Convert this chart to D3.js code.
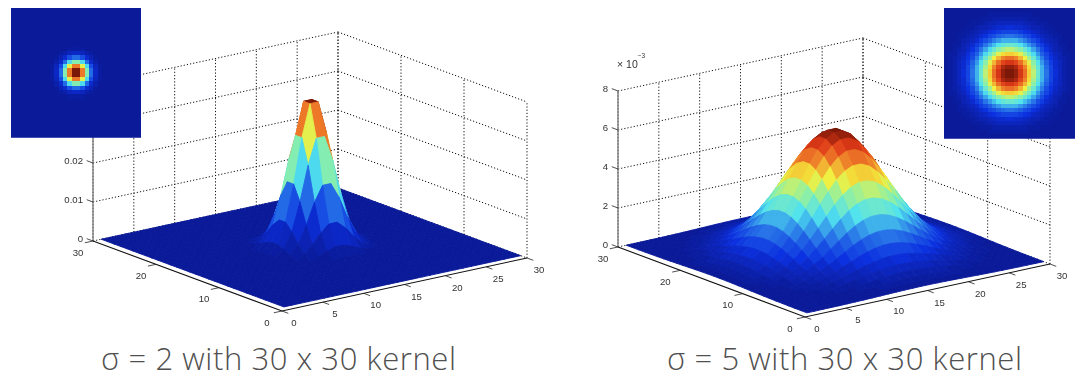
<!DOCTYPE html>
<html><head><meta charset="utf-8">
<script src="https://cdn.jsdelivr.net/npm/d3@7"></script>
<style>html,body{margin:0;padding:0;background:#fff}svg{display:block}</style>
</head><body><svg id="c" width="1082" height="380"></svg>
<script>
// Row profile of each kernel (30 samples)
const profileSigma2 = [0,0,0,0,0,0.0000025,0.000024,0.000176,0.00102,0.00455,0.0159,0.0431,0.0913,0.1506,0.1934,0.1934,0.1506,0.0913,0.0431,0.0159,0.00455,0.00102,0.000176,0.000024,0.0000025,0,0,0,0,0];
const profileSigma5 = [0.00119,0.00208,0.0035,0.00567,0.0088,0.0131,0.0188,0.0259,0.0343,0.0436,0.0532,0.0625,0.0704,0.0763,0.0794,0.0794,0.0763,0.0704,0.0625,0.0532,0.0436,0.0343,0.0259,0.0188,0.0131,0.0088,0.00567,0.0035,0.00208,0.00119];
const xTicks = [0,5,10,15,20,25,30];
const yTicks = [0,10,20,30];
const zTicksA = [0,0.01,0.02,0.03,0.04];
const zLabelsA = ["0","0.01","0.02"];
const zTicksB = [0,0.002,0.004,0.006,0.008];
const zLabelsB = ["0","2","4","6","8"];
const captions = ["σ = 2 with 30 x 30 kernel","σ = 5 with 30 x 30 kernel"];
const jetStops = [0,0.125,0.25,0.375,0.5,0.625,0.75,0.875,1];
const jetColors = ["#0a1a98","#0c30e0","#2a7ae8","#50e2f0","#90f0a4","#f4f03c","#f08a2c","#e03a18","#7c1808"];

const jet = d3.scaleLinear().domain(jetStops).range(jetColors).interpolate(d3.interpolateRgb);
const quant = t => jet(Math.min(63,Math.floor(t*64))/63);
const svg = d3.select("#c");
const defs = svg.append("defs");
defs.append("filter").attr("id","soft").attr("x","-5%").attr("y","-5%").attr("width","110%").attr("height","110%")
  .attr("color-interpolation-filters","sRGB")
  .append("feGaussianBlur").attr("stdDeviation",0.45);
defs.append("filter").attr("id","softImg").attr("x","-2%").attr("y","-2%").attr("width","104%").attr("height","104%")
  .attr("color-interpolation-filters","sRGB")
  .append("feGaussianBlur").attr("stdDeviation",0.55);

function chart(cfg){
  const {profile,zTicks,zLabels,F,R,L,zPx,zMax,inset,caption,capX,capW} = cfg;
  const fx = d3.scaleLinear().domain([0,30]).range([0,1]);
  const fz = d3.scaleLinear().domain([0,zMax]).range([0,zPx]);
  const P = (x,y,z=0)=>[F[0]+fx(x)*(R[0]-F[0])+fx(y)*(L[0]-F[0]),
                        F[1]+fx(x)*(R[1]-F[1])+fx(y)*(L[1]-F[1])-fz(z)];
  const g = svg.append("g").attr("filter","url(#soft)");
  const grid = g.append("g").attr("fill","none").attr("stroke","#111").attr("stroke-width",1).attr("stroke-dasharray","1.2 2");
  const line = d3.line();
  const seg=(a,b,sel=grid)=>sel.append("path").attr("d",line([a,b]));
  zTicks.forEach(z=>{ seg(P(0,30,z),P(30,30,z)); seg(P(30,30,z),P(30,0,z)); });
  xTicks.forEach(x=>{ seg(P(x,30,0),P(x,30,zMax)); });
  yTicks.forEach(y=>{ seg(P(30,y,0),P(30,y,zMax)); });

  // axes
  const ax = g.append("g").attr("fill","none");
  ax.append("path").attr("d",line([P(0,30,0),P(0,30,zMax)])).attr("stroke","#808080").attr("stroke-width",1.4);
  ax.append("path").attr("d",line([P(0,30,0),P(0,0,0),P(30,0,0)])).attr("stroke","#111").attr("stroke-width",1.1);
  const tk = ax.append("g").attr("stroke","#222").attr("stroke-width",0.8);
  xTicks.forEach(x=>tk.append("path").attr("d",line([P(x,0,0),P(x,-1,0)])));
  yTicks.forEach(y=>tk.append("path").attr("d",line([P(0,y,0),P(-1,y,0)])));
  zTicks.forEach(z=>tk.append("path").attr("d",line([P(0,30,z),P(0,31,z)])));

  // surface
  const Z = profile.map(a=>profile.map(b=>a*b));
  const zMin = d3.min(Z,r=>d3.min(r)), zTop = d3.max(Z,r=>d3.max(r));
  const cs = d3.scaleLinear().domain([zMin,zTop]).range([0,1]);
  const faces=[];
  for(let i=28;i>=0;i--)for(let j=28;j>=0;j--)faces.push([i,j]);
  g.append("g").selectAll("path").data(faces).join("path")
    .attr("d",([i,j])=>line([P(i+1,j+1,Z[i][j]),P(i+2,j+1,Z[i+1][j]),P(i+2,j+2,Z[i+1][j+1]),P(i+1,j+2,Z[i][j+1])])+"Z")
    .attr("fill",([i,j])=>quant(cs(Z[i][j])))
    .attr("stroke",([i,j])=>quant(cs(Z[i][j])))
    .attr("stroke-width",0.9)
    .attr("stroke-linejoin","round");

  // labels
  const t = g.append("g").attr("font-family","'Liberation Sans',Arial,sans-serif").attr("font-size",9.6).attr("fill","#333").attr("text-anchor","middle");
  xTicks.forEach(x=>{const p=P(x,0,0);t.append("text").attr("x",p[0]+12).attr("y",p[1]+15).text(x);});
  yTicks.forEach(y=>{const p=P(0,y,0);t.append("text").attr("x",p[0]-15).attr("y",p[1]+14.5).text(y);});
  zLabels.forEach((s,k)=>{const p=P(0,30,zTicks[k]);t.append("text").attr("x",p[0]-10).attr("y",p[1]+1).attr("text-anchor","end").text(s);});
  if(cfg.exp){
    const e=t.append("text").attr("x",cfg.exp[0]).attr("y",cfg.exp[1]).attr("text-anchor","start").attr("font-size",10.5);
    e.append("tspan").text("× 10");
    e.append("tspan").attr("dy",-10).attr("font-size",6.5).text("−3");
  }

  // inset kernel image
  const bx = d3.scaleBand().domain(d3.range(30)).range([inset[0],inset[0]+inset[2]]);
  const by = d3.scaleBand().domain(d3.range(30)).range([inset[1],inset[1]+inset[3]]);
  const ig = svg.append("g");
  ig.append("rect").attr("x",inset[0]).attr("y",inset[1]).attr("width",inset[2]).attr("height",inset[3]).attr("fill",jet(0));
  const cells=[]; for(let i=0;i<30;i++)for(let j=0;j<30;j++)cells.push([i,j]);
  const clipId="clip"+inset[0];
  defs.append("clipPath").attr("id",clipId).append("rect").attr("x",inset[0]).attr("y",inset[1]).attr("width",inset[2]).attr("height",inset[3]);
  ig.append("g").attr("clip-path",`url(#${clipId})`).append("g").attr("filter","url(#softImg)")
    .selectAll("rect").data(cells).join("rect")
    .attr("shape-rendering","crispEdges")
    .attr("x",d=>bx(d[0])).attr("y",d=>by(d[1])).attr("width",bx.bandwidth()+0.6).attr("height",by.bandwidth()+0.6)
    .attr("fill",d=>quant(cs(Z[d[0]][d[1]])));

  svg.append("text").attr("x",capX).attr("y",370).attr("font-family","'Open Sans',sans-serif").attr("font-weight",300)
    .attr("font-size",31).attr("fill","#505050").attr("textLength",capW).attr("lengthAdjust","spacing").text(caption);
}
chart({profile:profileSigma2,zTicks:zTicksA,zLabels:zLabelsA,F:[282,311],R:[527,258],L:[93,241],zPx:156,zMax:0.04,inset:[11,8,130,129.5],caption:captions[0],capX:101,capW:355});
chart({profile:profileSigma5,zTicks:zTicksB,zLabels:zLabelsB,F:[805,317],R:[1050,264],L:[618,247],zPx:156,zMax:0.008,inset:[944,8,131,130.5],caption:captions[1],capX:667,capW:355,exp:[617,68]});
</script></body></html>
